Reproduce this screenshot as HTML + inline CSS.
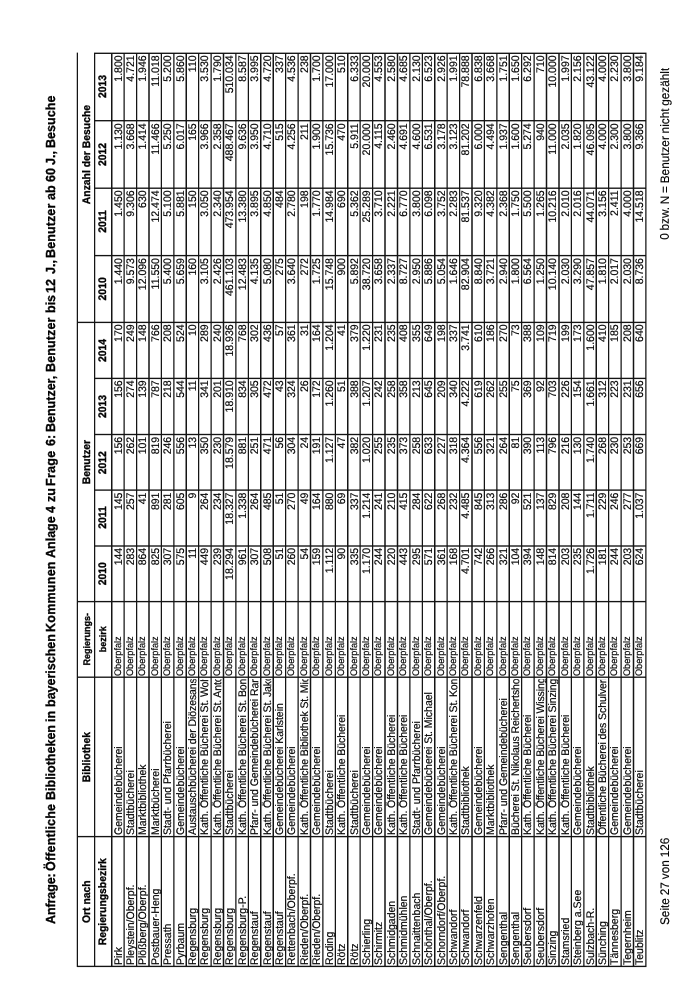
<!DOCTYPE html>
<html lang="de"><head><meta charset="utf-8"><title>Anlage 4 zu Frage 6</title><style>
html,body{margin:0;padding:0;background:#fff;}
body{width:700px;height:990px;overflow:hidden;position:relative;}
#pg{will-change:transform;position:absolute;left:0;top:0;width:990px;height:700px;transform-origin:0 0;transform:translate(0,990px) rotate(-90deg);font-family:"Liberation Sans",sans-serif;color:#000;}
#grid{position:absolute;left:0;top:0;}
.t{position:absolute;white-space:nowrap;overflow:hidden;transform:rotate(0.05deg) scaleX(0.95);}
.b{font-size:11.05px;-webkit-text-stroke:0.18px #000;}
.o{font-size:9.63px;-webkit-text-stroke:0.15px #000;}
.hb{font-size:10.95px;font-weight:bold;-webkit-text-stroke:0.3px #000;}
.hr{font-size:9.47px;font-weight:bold;-webkit-text-stroke:0.3px #000;}
.ti{font-size:13.16px;font-weight:bold;-webkit-text-stroke:0.3px #000;}
.f{font-size:12.38px;-webkit-text-stroke:0.15px #000;}
.ti{transform:none;}
.ti span{position:absolute;top:0;white-space:pre;transform-origin:0 50%;transform:rotate(0.05deg) scaleX(0.95);}
</style></head><body><div id="pg">
<svg id="grid" width="990" height="700" viewBox="0 0 990 700"><path d="M22.93 77.40H937.38M22.93 94.60H937.38M22.93 111.70H937.38M22.93 124.12H937.38M22.93 136.55H937.38M22.93 148.97H937.38M22.93 161.40H937.38M22.93 173.82H937.38M22.93 186.24H937.38M22.93 198.67H937.38M22.93 211.09H937.38M22.93 223.52H937.38M22.93 235.94H937.38M22.93 248.36H937.38M22.93 260.79H937.38M22.93 273.21H937.38M22.93 285.64H937.38M22.93 298.06H937.38M22.93 310.48H937.38M22.93 322.91H937.38M22.93 335.33H937.38M22.93 347.76H937.38M22.93 360.18H937.38M22.93 372.60H937.38M22.93 385.03H937.38M22.93 397.45H937.38M22.93 409.88H937.38M22.93 422.30H937.38M22.93 434.72H937.38M22.93 447.15H937.38M22.93 459.57H937.38M22.93 472.00H937.38M22.93 484.42H937.38M22.93 496.84H937.38M22.93 509.27H937.38M22.93 521.69H937.38M22.93 534.12H937.38M22.93 546.54H937.38M22.93 558.96H937.38M22.93 571.39H937.38M22.93 583.81H937.38M22.93 596.24H937.38M22.93 608.66H937.38M22.93 621.08H937.38M22.93 633.51H937.38M22.93 645.93H937.38M23.60 76.73V646.61M153.40 76.73V646.61M312.80 76.73V646.61M388.40 76.73V646.61M444.00 93.92V646.61M499.90 93.92V646.61M555.50 93.92V646.61M611.60 93.92V646.61M667.60 76.73V646.61M734.40 93.92V646.61M801.80 93.92V646.61M869.30 93.92V646.61M936.70 93.92V646.61" fill="none" stroke="#141414" stroke-width="1.35"/></svg>
<div class="t hb" style="left:20.18px;top:78.05px;width:136.63px;height:17.20px;line-height:17.20px;text-align:center;transform-origin:50% 50%;">Ort nach</div>
<div class="t hb" style="left:20.18px;top:94.25px;width:136.63px;height:17.10px;line-height:17.10px;text-align:center;transform-origin:50% 50%;">Regierungsbezirk</div>
<div class="t hb" style="left:149.21px;top:78.05px;width:167.79px;height:17.20px;line-height:17.20px;text-align:center;transform-origin:50% 50%;">Bibliothek</div>
<div class="t hr" style="left:310.81px;top:77.55px;width:79.58px;height:17.20px;line-height:17.20px;text-align:center;transform-origin:50% 50%;">Regierungs-</div>
<div class="t hr" style="left:310.81px;top:94.25px;width:79.58px;height:17.10px;line-height:17.10px;text-align:center;transform-origin:50% 50%;">bezirk</div>
<div class="t hb" style="left:381.05px;top:78.05px;width:293.89px;height:17.20px;line-height:17.20px;text-align:center;transform-origin:50% 50%;">Benutzer</div>
<div class="t hb" style="left:729.08px;top:78.05px;width:212.95px;height:17.20px;line-height:17.20px;text-align:center;transform-origin:50% 50%;">Anzahl der Besuche</div>
<div class="t hb" style="left:386.94px;top:94.25px;width:58.53px;height:17.10px;line-height:17.10px;text-align:center;transform-origin:50% 50%;">2010</div>
<div class="t hb" style="left:442.53px;top:94.25px;width:58.84px;height:17.10px;line-height:17.10px;text-align:center;transform-origin:50% 50%;">2011</div>
<div class="t hb" style="left:498.44px;top:94.25px;width:58.53px;height:17.10px;line-height:17.10px;text-align:center;transform-origin:50% 50%;">2012</div>
<div class="t hb" style="left:554.02px;top:94.25px;width:59.05px;height:17.10px;line-height:17.10px;text-align:center;transform-origin:50% 50%;">2013</div>
<div class="t hb" style="left:610.13px;top:94.25px;width:58.95px;height:17.10px;line-height:17.10px;text-align:center;transform-origin:50% 50%;">2014</div>
<div class="t hb" style="left:665.84px;top:94.25px;width:70.32px;height:17.10px;line-height:17.10px;text-align:center;transform-origin:50% 50%;">2010</div>
<div class="t hb" style="left:732.63px;top:94.25px;width:70.95px;height:17.10px;line-height:17.10px;text-align:center;transform-origin:50% 50%;">2011</div>
<div class="t hb" style="left:800.02px;top:94.25px;width:71.05px;height:17.10px;line-height:17.10px;text-align:center;transform-origin:50% 50%;">2012</div>
<div class="t hb" style="left:867.53px;top:94.25px;width:70.95px;height:17.10px;line-height:17.10px;text-align:center;transform-origin:50% 50%;">2013</div>
<div class="t b" style="left:25.20px;top:111.50px;width:133.16px;height:12.42px;line-height:12.42px;text-align:left;transform-origin:0 50%;">Pirk</div>
<div class="t b" style="left:155.00px;top:111.50px;width:164.32px;height:12.42px;line-height:12.42px;text-align:left;transform-origin:0 50%;">Gemeindebücherei</div>
<div class="t o" style="left:314.40px;top:111.50px;width:76.11px;height:12.42px;line-height:12.42px;text-align:left;transform-origin:0 50%;">Oberpfalz</div>
<div class="t b" style="left:386.64px;top:111.50px;width:55.16px;height:12.42px;line-height:12.42px;text-align:right;transform-origin:100% 50%;">144</div>
<div class="t b" style="left:442.23px;top:111.50px;width:55.47px;height:12.42px;line-height:12.42px;text-align:right;transform-origin:100% 50%;">145</div>
<div class="t b" style="left:498.14px;top:111.50px;width:55.16px;height:12.42px;line-height:12.42px;text-align:right;transform-origin:100% 50%;">156</div>
<div class="t b" style="left:553.72px;top:111.50px;width:55.68px;height:12.42px;line-height:12.42px;text-align:right;transform-origin:100% 50%;">156</div>
<div class="t b" style="left:609.82px;top:111.50px;width:55.58px;height:12.42px;line-height:12.42px;text-align:right;transform-origin:100% 50%;">170</div>
<div class="t b" style="left:665.25px;top:111.50px;width:66.95px;height:12.42px;line-height:12.42px;text-align:right;transform-origin:100% 50%;">1.440</div>
<div class="t b" style="left:732.02px;top:111.50px;width:67.58px;height:12.42px;line-height:12.42px;text-align:right;transform-origin:100% 50%;">1.450</div>
<div class="t b" style="left:799.42px;top:111.50px;width:67.68px;height:12.42px;line-height:12.42px;text-align:right;transform-origin:100% 50%;">1.130</div>
<div class="t b" style="left:866.92px;top:111.50px;width:67.58px;height:12.42px;line-height:12.42px;text-align:right;transform-origin:100% 50%;">1.800</div>
<div class="t b" style="left:25.20px;top:123.92px;width:133.16px;height:12.42px;line-height:12.42px;text-align:left;transform-origin:0 50%;">Pleystein/Oberpf.</div>
<div class="t b" style="left:155.00px;top:123.92px;width:164.32px;height:12.42px;line-height:12.42px;text-align:left;transform-origin:0 50%;">Stadtbücherei</div>
<div class="t o" style="left:314.40px;top:123.92px;width:76.11px;height:12.42px;line-height:12.42px;text-align:left;transform-origin:0 50%;">Oberpfalz</div>
<div class="t b" style="left:386.64px;top:123.92px;width:55.16px;height:12.42px;line-height:12.42px;text-align:right;transform-origin:100% 50%;">283</div>
<div class="t b" style="left:442.23px;top:123.92px;width:55.47px;height:12.42px;line-height:12.42px;text-align:right;transform-origin:100% 50%;">257</div>
<div class="t b" style="left:498.14px;top:123.92px;width:55.16px;height:12.42px;line-height:12.42px;text-align:right;transform-origin:100% 50%;">262</div>
<div class="t b" style="left:553.72px;top:123.92px;width:55.68px;height:12.42px;line-height:12.42px;text-align:right;transform-origin:100% 50%;">274</div>
<div class="t b" style="left:609.82px;top:123.92px;width:55.58px;height:12.42px;line-height:12.42px;text-align:right;transform-origin:100% 50%;">249</div>
<div class="t b" style="left:665.25px;top:123.92px;width:66.95px;height:12.42px;line-height:12.42px;text-align:right;transform-origin:100% 50%;">9.573</div>
<div class="t b" style="left:732.02px;top:123.92px;width:67.58px;height:12.42px;line-height:12.42px;text-align:right;transform-origin:100% 50%;">9.306</div>
<div class="t b" style="left:799.42px;top:123.92px;width:67.68px;height:12.42px;line-height:12.42px;text-align:right;transform-origin:100% 50%;">3.668</div>
<div class="t b" style="left:866.92px;top:123.92px;width:67.58px;height:12.42px;line-height:12.42px;text-align:right;transform-origin:100% 50%;">4.721</div>
<div class="t b" style="left:25.20px;top:136.35px;width:133.16px;height:12.42px;line-height:12.42px;text-align:left;transform-origin:0 50%;">Plößberg/Oberpf.</div>
<div class="t b" style="left:155.00px;top:136.35px;width:164.32px;height:12.42px;line-height:12.42px;text-align:left;transform-origin:0 50%;">Marktbibliothek</div>
<div class="t o" style="left:314.40px;top:136.35px;width:76.11px;height:12.42px;line-height:12.42px;text-align:left;transform-origin:0 50%;">Oberpfalz</div>
<div class="t b" style="left:386.64px;top:136.35px;width:55.16px;height:12.42px;line-height:12.42px;text-align:right;transform-origin:100% 50%;">864</div>
<div class="t b" style="left:442.23px;top:136.35px;width:55.47px;height:12.42px;line-height:12.42px;text-align:right;transform-origin:100% 50%;">41</div>
<div class="t b" style="left:498.14px;top:136.35px;width:55.16px;height:12.42px;line-height:12.42px;text-align:right;transform-origin:100% 50%;">101</div>
<div class="t b" style="left:553.72px;top:136.35px;width:55.68px;height:12.42px;line-height:12.42px;text-align:right;transform-origin:100% 50%;">139</div>
<div class="t b" style="left:609.82px;top:136.35px;width:55.58px;height:12.42px;line-height:12.42px;text-align:right;transform-origin:100% 50%;">148</div>
<div class="t b" style="left:665.25px;top:136.35px;width:66.95px;height:12.42px;line-height:12.42px;text-align:right;transform-origin:100% 50%;">12.096</div>
<div class="t b" style="left:732.02px;top:136.35px;width:67.58px;height:12.42px;line-height:12.42px;text-align:right;transform-origin:100% 50%;">630</div>
<div class="t b" style="left:799.42px;top:136.35px;width:67.68px;height:12.42px;line-height:12.42px;text-align:right;transform-origin:100% 50%;">1.414</div>
<div class="t b" style="left:866.92px;top:136.35px;width:67.58px;height:12.42px;line-height:12.42px;text-align:right;transform-origin:100% 50%;">1.946</div>
<div class="t b" style="left:25.20px;top:148.77px;width:133.16px;height:12.42px;line-height:12.42px;text-align:left;transform-origin:0 50%;">Postbauer-Heng</div>
<div class="t b" style="left:155.00px;top:148.77px;width:164.32px;height:12.42px;line-height:12.42px;text-align:left;transform-origin:0 50%;">Marktbücherei</div>
<div class="t o" style="left:314.40px;top:148.77px;width:76.11px;height:12.42px;line-height:12.42px;text-align:left;transform-origin:0 50%;">Oberpfalz</div>
<div class="t b" style="left:386.64px;top:148.77px;width:55.16px;height:12.42px;line-height:12.42px;text-align:right;transform-origin:100% 50%;">825</div>
<div class="t b" style="left:442.23px;top:148.77px;width:55.47px;height:12.42px;line-height:12.42px;text-align:right;transform-origin:100% 50%;">891</div>
<div class="t b" style="left:498.14px;top:148.77px;width:55.16px;height:12.42px;line-height:12.42px;text-align:right;transform-origin:100% 50%;">819</div>
<div class="t b" style="left:553.72px;top:148.77px;width:55.68px;height:12.42px;line-height:12.42px;text-align:right;transform-origin:100% 50%;">787</div>
<div class="t b" style="left:609.82px;top:148.77px;width:55.58px;height:12.42px;line-height:12.42px;text-align:right;transform-origin:100% 50%;">766</div>
<div class="t b" style="left:665.25px;top:148.77px;width:66.95px;height:12.42px;line-height:12.42px;text-align:right;transform-origin:100% 50%;">11.550</div>
<div class="t b" style="left:732.02px;top:148.77px;width:67.58px;height:12.42px;line-height:12.42px;text-align:right;transform-origin:100% 50%;">12.474</div>
<div class="t b" style="left:799.42px;top:148.77px;width:67.68px;height:12.42px;line-height:12.42px;text-align:right;transform-origin:100% 50%;">11.466</div>
<div class="t b" style="left:866.92px;top:148.77px;width:67.58px;height:12.42px;line-height:12.42px;text-align:right;transform-origin:100% 50%;">11.018</div>
<div class="t b" style="left:25.20px;top:161.20px;width:133.16px;height:12.42px;line-height:12.42px;text-align:left;transform-origin:0 50%;">Pressath</div>
<div class="t b" style="left:155.00px;top:161.20px;width:164.32px;height:12.42px;line-height:12.42px;text-align:left;transform-origin:0 50%;letter-spacing:-0.025px">Stadt- und Pfarrbücherei</div>
<div class="t o" style="left:314.40px;top:161.20px;width:76.11px;height:12.42px;line-height:12.42px;text-align:left;transform-origin:0 50%;">Oberpfalz</div>
<div class="t b" style="left:386.64px;top:161.20px;width:55.16px;height:12.42px;line-height:12.42px;text-align:right;transform-origin:100% 50%;">307</div>
<div class="t b" style="left:442.23px;top:161.20px;width:55.47px;height:12.42px;line-height:12.42px;text-align:right;transform-origin:100% 50%;">281</div>
<div class="t b" style="left:498.14px;top:161.20px;width:55.16px;height:12.42px;line-height:12.42px;text-align:right;transform-origin:100% 50%;">246</div>
<div class="t b" style="left:553.72px;top:161.20px;width:55.68px;height:12.42px;line-height:12.42px;text-align:right;transform-origin:100% 50%;">218</div>
<div class="t b" style="left:609.82px;top:161.20px;width:55.58px;height:12.42px;line-height:12.42px;text-align:right;transform-origin:100% 50%;">208</div>
<div class="t b" style="left:665.25px;top:161.20px;width:66.95px;height:12.42px;line-height:12.42px;text-align:right;transform-origin:100% 50%;">5.400</div>
<div class="t b" style="left:732.02px;top:161.20px;width:67.58px;height:12.42px;line-height:12.42px;text-align:right;transform-origin:100% 50%;">5.100</div>
<div class="t b" style="left:799.42px;top:161.20px;width:67.68px;height:12.42px;line-height:12.42px;text-align:right;transform-origin:100% 50%;">5.250</div>
<div class="t b" style="left:866.92px;top:161.20px;width:67.58px;height:12.42px;line-height:12.42px;text-align:right;transform-origin:100% 50%;">5.200</div>
<div class="t b" style="left:25.20px;top:173.62px;width:133.16px;height:12.42px;line-height:12.42px;text-align:left;transform-origin:0 50%;">Pyrbaum</div>
<div class="t b" style="left:155.00px;top:173.62px;width:164.32px;height:12.42px;line-height:12.42px;text-align:left;transform-origin:0 50%;">Gemeindebücherei</div>
<div class="t o" style="left:314.40px;top:173.62px;width:76.11px;height:12.42px;line-height:12.42px;text-align:left;transform-origin:0 50%;">Oberpfalz</div>
<div class="t b" style="left:386.64px;top:173.62px;width:55.16px;height:12.42px;line-height:12.42px;text-align:right;transform-origin:100% 50%;">575</div>
<div class="t b" style="left:442.23px;top:173.62px;width:55.47px;height:12.42px;line-height:12.42px;text-align:right;transform-origin:100% 50%;">605</div>
<div class="t b" style="left:498.14px;top:173.62px;width:55.16px;height:12.42px;line-height:12.42px;text-align:right;transform-origin:100% 50%;">556</div>
<div class="t b" style="left:553.72px;top:173.62px;width:55.68px;height:12.42px;line-height:12.42px;text-align:right;transform-origin:100% 50%;">544</div>
<div class="t b" style="left:609.82px;top:173.62px;width:55.58px;height:12.42px;line-height:12.42px;text-align:right;transform-origin:100% 50%;">524</div>
<div class="t b" style="left:665.25px;top:173.62px;width:66.95px;height:12.42px;line-height:12.42px;text-align:right;transform-origin:100% 50%;">5.659</div>
<div class="t b" style="left:732.02px;top:173.62px;width:67.58px;height:12.42px;line-height:12.42px;text-align:right;transform-origin:100% 50%;">5.881</div>
<div class="t b" style="left:799.42px;top:173.62px;width:67.68px;height:12.42px;line-height:12.42px;text-align:right;transform-origin:100% 50%;">6.017</div>
<div class="t b" style="left:866.92px;top:173.62px;width:67.58px;height:12.42px;line-height:12.42px;text-align:right;transform-origin:100% 50%;">5.860</div>
<div class="t b" style="left:25.20px;top:186.04px;width:133.16px;height:12.42px;line-height:12.42px;text-align:left;transform-origin:0 50%;">Regensburg</div>
<div class="t b" style="left:155.00px;top:186.04px;width:164.32px;height:12.42px;line-height:12.42px;text-align:left;transform-origin:0 50%;letter-spacing:-0.085px">Austauschbücherei der Diözesanstelle</div>
<div class="t o" style="left:314.40px;top:186.04px;width:76.11px;height:12.42px;line-height:12.42px;text-align:left;transform-origin:0 50%;">Oberpfalz</div>
<div class="t b" style="left:386.64px;top:186.04px;width:55.16px;height:12.42px;line-height:12.42px;text-align:right;transform-origin:100% 50%;">11</div>
<div class="t b" style="left:442.23px;top:186.04px;width:55.47px;height:12.42px;line-height:12.42px;text-align:right;transform-origin:100% 50%;">9</div>
<div class="t b" style="left:498.14px;top:186.04px;width:55.16px;height:12.42px;line-height:12.42px;text-align:right;transform-origin:100% 50%;">13</div>
<div class="t b" style="left:553.72px;top:186.04px;width:55.68px;height:12.42px;line-height:12.42px;text-align:right;transform-origin:100% 50%;">11</div>
<div class="t b" style="left:609.82px;top:186.04px;width:55.58px;height:12.42px;line-height:12.42px;text-align:right;transform-origin:100% 50%;">10</div>
<div class="t b" style="left:665.25px;top:186.04px;width:66.95px;height:12.42px;line-height:12.42px;text-align:right;transform-origin:100% 50%;">160</div>
<div class="t b" style="left:732.02px;top:186.04px;width:67.58px;height:12.42px;line-height:12.42px;text-align:right;transform-origin:100% 50%;">150</div>
<div class="t b" style="left:799.42px;top:186.04px;width:67.68px;height:12.42px;line-height:12.42px;text-align:right;transform-origin:100% 50%;">165</div>
<div class="t b" style="left:866.92px;top:186.04px;width:67.58px;height:12.42px;line-height:12.42px;text-align:right;transform-origin:100% 50%;">110</div>
<div class="t b" style="left:25.20px;top:198.47px;width:133.16px;height:12.42px;line-height:12.42px;text-align:left;transform-origin:0 50%;">Regensburg</div>
<div class="t b" style="left:155.00px;top:198.47px;width:164.32px;height:12.42px;line-height:12.42px;text-align:left;transform-origin:0 50%;letter-spacing:-0.085px">Kath. Öffentliche Bücherei St. Wolfgang</div>
<div class="t o" style="left:314.40px;top:198.47px;width:76.11px;height:12.42px;line-height:12.42px;text-align:left;transform-origin:0 50%;">Oberpfalz</div>
<div class="t b" style="left:386.64px;top:198.47px;width:55.16px;height:12.42px;line-height:12.42px;text-align:right;transform-origin:100% 50%;">449</div>
<div class="t b" style="left:442.23px;top:198.47px;width:55.47px;height:12.42px;line-height:12.42px;text-align:right;transform-origin:100% 50%;">264</div>
<div class="t b" style="left:498.14px;top:198.47px;width:55.16px;height:12.42px;line-height:12.42px;text-align:right;transform-origin:100% 50%;">350</div>
<div class="t b" style="left:553.72px;top:198.47px;width:55.68px;height:12.42px;line-height:12.42px;text-align:right;transform-origin:100% 50%;">341</div>
<div class="t b" style="left:609.82px;top:198.47px;width:55.58px;height:12.42px;line-height:12.42px;text-align:right;transform-origin:100% 50%;">289</div>
<div class="t b" style="left:665.25px;top:198.47px;width:66.95px;height:12.42px;line-height:12.42px;text-align:right;transform-origin:100% 50%;">3.105</div>
<div class="t b" style="left:732.02px;top:198.47px;width:67.58px;height:12.42px;line-height:12.42px;text-align:right;transform-origin:100% 50%;">3.050</div>
<div class="t b" style="left:799.42px;top:198.47px;width:67.68px;height:12.42px;line-height:12.42px;text-align:right;transform-origin:100% 50%;">3.966</div>
<div class="t b" style="left:866.92px;top:198.47px;width:67.58px;height:12.42px;line-height:12.42px;text-align:right;transform-origin:100% 50%;">3.530</div>
<div class="t b" style="left:25.20px;top:210.89px;width:133.16px;height:12.42px;line-height:12.42px;text-align:left;transform-origin:0 50%;">Regensburg</div>
<div class="t b" style="left:155.00px;top:210.89px;width:164.32px;height:12.42px;line-height:12.42px;text-align:left;transform-origin:0 50%;letter-spacing:-0.085px">Kath. Öffentliche Bücherei St. Anton</div>
<div class="t o" style="left:314.40px;top:210.89px;width:76.11px;height:12.42px;line-height:12.42px;text-align:left;transform-origin:0 50%;">Oberpfalz</div>
<div class="t b" style="left:386.64px;top:210.89px;width:55.16px;height:12.42px;line-height:12.42px;text-align:right;transform-origin:100% 50%;">239</div>
<div class="t b" style="left:442.23px;top:210.89px;width:55.47px;height:12.42px;line-height:12.42px;text-align:right;transform-origin:100% 50%;">234</div>
<div class="t b" style="left:498.14px;top:210.89px;width:55.16px;height:12.42px;line-height:12.42px;text-align:right;transform-origin:100% 50%;">230</div>
<div class="t b" style="left:553.72px;top:210.89px;width:55.68px;height:12.42px;line-height:12.42px;text-align:right;transform-origin:100% 50%;">201</div>
<div class="t b" style="left:609.82px;top:210.89px;width:55.58px;height:12.42px;line-height:12.42px;text-align:right;transform-origin:100% 50%;">240</div>
<div class="t b" style="left:665.25px;top:210.89px;width:66.95px;height:12.42px;line-height:12.42px;text-align:right;transform-origin:100% 50%;">2.426</div>
<div class="t b" style="left:732.02px;top:210.89px;width:67.58px;height:12.42px;line-height:12.42px;text-align:right;transform-origin:100% 50%;">2.340</div>
<div class="t b" style="left:799.42px;top:210.89px;width:67.68px;height:12.42px;line-height:12.42px;text-align:right;transform-origin:100% 50%;">2.358</div>
<div class="t b" style="left:866.92px;top:210.89px;width:67.58px;height:12.42px;line-height:12.42px;text-align:right;transform-origin:100% 50%;">1.790</div>
<div class="t b" style="left:25.20px;top:223.32px;width:133.16px;height:12.42px;line-height:12.42px;text-align:left;transform-origin:0 50%;">Regensburg</div>
<div class="t b" style="left:155.00px;top:223.32px;width:164.32px;height:12.42px;line-height:12.42px;text-align:left;transform-origin:0 50%;">Stadtbücherei</div>
<div class="t o" style="left:314.40px;top:223.32px;width:76.11px;height:12.42px;line-height:12.42px;text-align:left;transform-origin:0 50%;">Oberpfalz</div>
<div class="t b" style="left:386.64px;top:223.32px;width:55.16px;height:12.42px;line-height:12.42px;text-align:right;transform-origin:100% 50%;">18.294</div>
<div class="t b" style="left:442.23px;top:223.32px;width:55.47px;height:12.42px;line-height:12.42px;text-align:right;transform-origin:100% 50%;">18.327</div>
<div class="t b" style="left:498.14px;top:223.32px;width:55.16px;height:12.42px;line-height:12.42px;text-align:right;transform-origin:100% 50%;">18.579</div>
<div class="t b" style="left:553.72px;top:223.32px;width:55.68px;height:12.42px;line-height:12.42px;text-align:right;transform-origin:100% 50%;">18.910</div>
<div class="t b" style="left:609.82px;top:223.32px;width:55.58px;height:12.42px;line-height:12.42px;text-align:right;transform-origin:100% 50%;">18.936</div>
<div class="t b" style="left:665.25px;top:223.32px;width:66.95px;height:12.42px;line-height:12.42px;text-align:right;transform-origin:100% 50%;">461.103</div>
<div class="t b" style="left:732.02px;top:223.32px;width:67.58px;height:12.42px;line-height:12.42px;text-align:right;transform-origin:100% 50%;">473.954</div>
<div class="t b" style="left:799.42px;top:223.32px;width:67.68px;height:12.42px;line-height:12.42px;text-align:right;transform-origin:100% 50%;">488.467</div>
<div class="t b" style="left:866.92px;top:223.32px;width:67.58px;height:12.42px;line-height:12.42px;text-align:right;transform-origin:100% 50%;">510.034</div>
<div class="t b" style="left:25.20px;top:235.74px;width:133.16px;height:12.42px;line-height:12.42px;text-align:left;transform-origin:0 50%;">Regensburg-P.</div>
<div class="t b" style="left:155.00px;top:235.74px;width:164.32px;height:12.42px;line-height:12.42px;text-align:left;transform-origin:0 50%;letter-spacing:-0.085px">Kath. Öffentliche Bücherei St. Bonifaz</div>
<div class="t o" style="left:314.40px;top:235.74px;width:76.11px;height:12.42px;line-height:12.42px;text-align:left;transform-origin:0 50%;">Oberpfalz</div>
<div class="t b" style="left:386.64px;top:235.74px;width:55.16px;height:12.42px;line-height:12.42px;text-align:right;transform-origin:100% 50%;">961</div>
<div class="t b" style="left:442.23px;top:235.74px;width:55.47px;height:12.42px;line-height:12.42px;text-align:right;transform-origin:100% 50%;">1.338</div>
<div class="t b" style="left:498.14px;top:235.74px;width:55.16px;height:12.42px;line-height:12.42px;text-align:right;transform-origin:100% 50%;">881</div>
<div class="t b" style="left:553.72px;top:235.74px;width:55.68px;height:12.42px;line-height:12.42px;text-align:right;transform-origin:100% 50%;">834</div>
<div class="t b" style="left:609.82px;top:235.74px;width:55.58px;height:12.42px;line-height:12.42px;text-align:right;transform-origin:100% 50%;">768</div>
<div class="t b" style="left:665.25px;top:235.74px;width:66.95px;height:12.42px;line-height:12.42px;text-align:right;transform-origin:100% 50%;">12.483</div>
<div class="t b" style="left:732.02px;top:235.74px;width:67.58px;height:12.42px;line-height:12.42px;text-align:right;transform-origin:100% 50%;">13.380</div>
<div class="t b" style="left:799.42px;top:235.74px;width:67.68px;height:12.42px;line-height:12.42px;text-align:right;transform-origin:100% 50%;">9.636</div>
<div class="t b" style="left:866.92px;top:235.74px;width:67.58px;height:12.42px;line-height:12.42px;text-align:right;transform-origin:100% 50%;">8.587</div>
<div class="t b" style="left:25.20px;top:248.16px;width:133.16px;height:12.42px;line-height:12.42px;text-align:left;transform-origin:0 50%;">Regenstauf</div>
<div class="t b" style="left:155.00px;top:248.16px;width:164.32px;height:12.42px;line-height:12.42px;text-align:left;transform-origin:0 50%;letter-spacing:-0.085px">Pfarr- und Gemeindebücherei Ramspau</div>
<div class="t o" style="left:314.40px;top:248.16px;width:76.11px;height:12.42px;line-height:12.42px;text-align:left;transform-origin:0 50%;">Oberpfalz</div>
<div class="t b" style="left:386.64px;top:248.16px;width:55.16px;height:12.42px;line-height:12.42px;text-align:right;transform-origin:100% 50%;">307</div>
<div class="t b" style="left:442.23px;top:248.16px;width:55.47px;height:12.42px;line-height:12.42px;text-align:right;transform-origin:100% 50%;">264</div>
<div class="t b" style="left:498.14px;top:248.16px;width:55.16px;height:12.42px;line-height:12.42px;text-align:right;transform-origin:100% 50%;">251</div>
<div class="t b" style="left:553.72px;top:248.16px;width:55.68px;height:12.42px;line-height:12.42px;text-align:right;transform-origin:100% 50%;">305</div>
<div class="t b" style="left:609.82px;top:248.16px;width:55.58px;height:12.42px;line-height:12.42px;text-align:right;transform-origin:100% 50%;">302</div>
<div class="t b" style="left:665.25px;top:248.16px;width:66.95px;height:12.42px;line-height:12.42px;text-align:right;transform-origin:100% 50%;">4.135</div>
<div class="t b" style="left:732.02px;top:248.16px;width:67.58px;height:12.42px;line-height:12.42px;text-align:right;transform-origin:100% 50%;">3.895</div>
<div class="t b" style="left:799.42px;top:248.16px;width:67.68px;height:12.42px;line-height:12.42px;text-align:right;transform-origin:100% 50%;">3.950</div>
<div class="t b" style="left:866.92px;top:248.16px;width:67.58px;height:12.42px;line-height:12.42px;text-align:right;transform-origin:100% 50%;">3.995</div>
<div class="t b" style="left:25.20px;top:260.59px;width:133.16px;height:12.42px;line-height:12.42px;text-align:left;transform-origin:0 50%;">Regenstauf</div>
<div class="t b" style="left:155.00px;top:260.59px;width:164.32px;height:12.42px;line-height:12.42px;text-align:left;transform-origin:0 50%;letter-spacing:-0.085px">Kath. Öffentliche Bücherei St. Jakob</div>
<div class="t o" style="left:314.40px;top:260.59px;width:76.11px;height:12.42px;line-height:12.42px;text-align:left;transform-origin:0 50%;">Oberpfalz</div>
<div class="t b" style="left:386.64px;top:260.59px;width:55.16px;height:12.42px;line-height:12.42px;text-align:right;transform-origin:100% 50%;">508</div>
<div class="t b" style="left:442.23px;top:260.59px;width:55.47px;height:12.42px;line-height:12.42px;text-align:right;transform-origin:100% 50%;">485</div>
<div class="t b" style="left:498.14px;top:260.59px;width:55.16px;height:12.42px;line-height:12.42px;text-align:right;transform-origin:100% 50%;">471</div>
<div class="t b" style="left:553.72px;top:260.59px;width:55.68px;height:12.42px;line-height:12.42px;text-align:right;transform-origin:100% 50%;">472</div>
<div class="t b" style="left:609.82px;top:260.59px;width:55.58px;height:12.42px;line-height:12.42px;text-align:right;transform-origin:100% 50%;">436</div>
<div class="t b" style="left:665.25px;top:260.59px;width:66.95px;height:12.42px;line-height:12.42px;text-align:right;transform-origin:100% 50%;">5.080</div>
<div class="t b" style="left:732.02px;top:260.59px;width:67.58px;height:12.42px;line-height:12.42px;text-align:right;transform-origin:100% 50%;">4.850</div>
<div class="t b" style="left:799.42px;top:260.59px;width:67.68px;height:12.42px;line-height:12.42px;text-align:right;transform-origin:100% 50%;">4.710</div>
<div class="t b" style="left:866.92px;top:260.59px;width:67.58px;height:12.42px;line-height:12.42px;text-align:right;transform-origin:100% 50%;">4.720</div>
<div class="t b" style="left:25.20px;top:273.01px;width:133.16px;height:12.42px;line-height:12.42px;text-align:left;transform-origin:0 50%;">Regenstauf</div>
<div class="t b" style="left:155.00px;top:273.01px;width:164.32px;height:12.42px;line-height:12.42px;text-align:left;transform-origin:0 50%;letter-spacing:-0.025px">Gemeindebücherei Karlstein</div>
<div class="t o" style="left:314.40px;top:273.01px;width:76.11px;height:12.42px;line-height:12.42px;text-align:left;transform-origin:0 50%;">Oberpfalz</div>
<div class="t b" style="left:386.64px;top:273.01px;width:55.16px;height:12.42px;line-height:12.42px;text-align:right;transform-origin:100% 50%;">51</div>
<div class="t b" style="left:442.23px;top:273.01px;width:55.47px;height:12.42px;line-height:12.42px;text-align:right;transform-origin:100% 50%;">51</div>
<div class="t b" style="left:498.14px;top:273.01px;width:55.16px;height:12.42px;line-height:12.42px;text-align:right;transform-origin:100% 50%;">56</div>
<div class="t b" style="left:553.72px;top:273.01px;width:55.68px;height:12.42px;line-height:12.42px;text-align:right;transform-origin:100% 50%;">43</div>
<div class="t b" style="left:609.82px;top:273.01px;width:55.58px;height:12.42px;line-height:12.42px;text-align:right;transform-origin:100% 50%;">57</div>
<div class="t b" style="left:665.25px;top:273.01px;width:66.95px;height:12.42px;line-height:12.42px;text-align:right;transform-origin:100% 50%;">275</div>
<div class="t b" style="left:732.02px;top:273.01px;width:67.58px;height:12.42px;line-height:12.42px;text-align:right;transform-origin:100% 50%;">484</div>
<div class="t b" style="left:799.42px;top:273.01px;width:67.68px;height:12.42px;line-height:12.42px;text-align:right;transform-origin:100% 50%;">515</div>
<div class="t b" style="left:866.92px;top:273.01px;width:67.58px;height:12.42px;line-height:12.42px;text-align:right;transform-origin:100% 50%;">337</div>
<div class="t b" style="left:25.20px;top:285.44px;width:133.16px;height:12.42px;line-height:12.42px;text-align:left;transform-origin:0 50%;">Rettenbach/Oberpf.</div>
<div class="t b" style="left:155.00px;top:285.44px;width:164.32px;height:12.42px;line-height:12.42px;text-align:left;transform-origin:0 50%;">Gemeindebücherei</div>
<div class="t o" style="left:314.40px;top:285.44px;width:76.11px;height:12.42px;line-height:12.42px;text-align:left;transform-origin:0 50%;">Oberpfalz</div>
<div class="t b" style="left:386.64px;top:285.44px;width:55.16px;height:12.42px;line-height:12.42px;text-align:right;transform-origin:100% 50%;">260</div>
<div class="t b" style="left:442.23px;top:285.44px;width:55.47px;height:12.42px;line-height:12.42px;text-align:right;transform-origin:100% 50%;">270</div>
<div class="t b" style="left:498.14px;top:285.44px;width:55.16px;height:12.42px;line-height:12.42px;text-align:right;transform-origin:100% 50%;">304</div>
<div class="t b" style="left:553.72px;top:285.44px;width:55.68px;height:12.42px;line-height:12.42px;text-align:right;transform-origin:100% 50%;">324</div>
<div class="t b" style="left:609.82px;top:285.44px;width:55.58px;height:12.42px;line-height:12.42px;text-align:right;transform-origin:100% 50%;">361</div>
<div class="t b" style="left:665.25px;top:285.44px;width:66.95px;height:12.42px;line-height:12.42px;text-align:right;transform-origin:100% 50%;">3.640</div>
<div class="t b" style="left:732.02px;top:285.44px;width:67.58px;height:12.42px;line-height:12.42px;text-align:right;transform-origin:100% 50%;">2.780</div>
<div class="t b" style="left:799.42px;top:285.44px;width:67.68px;height:12.42px;line-height:12.42px;text-align:right;transform-origin:100% 50%;">4.256</div>
<div class="t b" style="left:866.92px;top:285.44px;width:67.58px;height:12.42px;line-height:12.42px;text-align:right;transform-origin:100% 50%;">4.536</div>
<div class="t b" style="left:25.20px;top:297.86px;width:133.16px;height:12.42px;line-height:12.42px;text-align:left;transform-origin:0 50%;">Rieden/Oberpf.</div>
<div class="t b" style="left:155.00px;top:297.86px;width:164.32px;height:12.42px;line-height:12.42px;text-align:left;transform-origin:0 50%;letter-spacing:-0.085px">Kath. Öffentliche Bibliothek St. Michael</div>
<div class="t o" style="left:314.40px;top:297.86px;width:76.11px;height:12.42px;line-height:12.42px;text-align:left;transform-origin:0 50%;">Oberpfalz</div>
<div class="t b" style="left:386.64px;top:297.86px;width:55.16px;height:12.42px;line-height:12.42px;text-align:right;transform-origin:100% 50%;">54</div>
<div class="t b" style="left:442.23px;top:297.86px;width:55.47px;height:12.42px;line-height:12.42px;text-align:right;transform-origin:100% 50%;">49</div>
<div class="t b" style="left:498.14px;top:297.86px;width:55.16px;height:12.42px;line-height:12.42px;text-align:right;transform-origin:100% 50%;">24</div>
<div class="t b" style="left:553.72px;top:297.86px;width:55.68px;height:12.42px;line-height:12.42px;text-align:right;transform-origin:100% 50%;">26</div>
<div class="t b" style="left:609.82px;top:297.86px;width:55.58px;height:12.42px;line-height:12.42px;text-align:right;transform-origin:100% 50%;">31</div>
<div class="t b" style="left:665.25px;top:297.86px;width:66.95px;height:12.42px;line-height:12.42px;text-align:right;transform-origin:100% 50%;">272</div>
<div class="t b" style="left:732.02px;top:297.86px;width:67.58px;height:12.42px;line-height:12.42px;text-align:right;transform-origin:100% 50%;">198</div>
<div class="t b" style="left:799.42px;top:297.86px;width:67.68px;height:12.42px;line-height:12.42px;text-align:right;transform-origin:100% 50%;">211</div>
<div class="t b" style="left:866.92px;top:297.86px;width:67.58px;height:12.42px;line-height:12.42px;text-align:right;transform-origin:100% 50%;">238</div>
<div class="t b" style="left:25.20px;top:310.28px;width:133.16px;height:12.42px;line-height:12.42px;text-align:left;transform-origin:0 50%;">Rieden/Oberpf.</div>
<div class="t b" style="left:155.00px;top:310.28px;width:164.32px;height:12.42px;line-height:12.42px;text-align:left;transform-origin:0 50%;">Gemeindebücherei</div>
<div class="t o" style="left:314.40px;top:310.28px;width:76.11px;height:12.42px;line-height:12.42px;text-align:left;transform-origin:0 50%;">Oberpfalz</div>
<div class="t b" style="left:386.64px;top:310.28px;width:55.16px;height:12.42px;line-height:12.42px;text-align:right;transform-origin:100% 50%;">159</div>
<div class="t b" style="left:442.23px;top:310.28px;width:55.47px;height:12.42px;line-height:12.42px;text-align:right;transform-origin:100% 50%;">164</div>
<div class="t b" style="left:498.14px;top:310.28px;width:55.16px;height:12.42px;line-height:12.42px;text-align:right;transform-origin:100% 50%;">191</div>
<div class="t b" style="left:553.72px;top:310.28px;width:55.68px;height:12.42px;line-height:12.42px;text-align:right;transform-origin:100% 50%;">172</div>
<div class="t b" style="left:609.82px;top:310.28px;width:55.58px;height:12.42px;line-height:12.42px;text-align:right;transform-origin:100% 50%;">164</div>
<div class="t b" style="left:665.25px;top:310.28px;width:66.95px;height:12.42px;line-height:12.42px;text-align:right;transform-origin:100% 50%;">1.725</div>
<div class="t b" style="left:732.02px;top:310.28px;width:67.58px;height:12.42px;line-height:12.42px;text-align:right;transform-origin:100% 50%;">1.770</div>
<div class="t b" style="left:799.42px;top:310.28px;width:67.68px;height:12.42px;line-height:12.42px;text-align:right;transform-origin:100% 50%;">1.900</div>
<div class="t b" style="left:866.92px;top:310.28px;width:67.58px;height:12.42px;line-height:12.42px;text-align:right;transform-origin:100% 50%;">1.700</div>
<div class="t b" style="left:25.20px;top:322.71px;width:133.16px;height:12.42px;line-height:12.42px;text-align:left;transform-origin:0 50%;">Roding</div>
<div class="t b" style="left:155.00px;top:322.71px;width:164.32px;height:12.42px;line-height:12.42px;text-align:left;transform-origin:0 50%;">Stadtbücherei</div>
<div class="t o" style="left:314.40px;top:322.71px;width:76.11px;height:12.42px;line-height:12.42px;text-align:left;transform-origin:0 50%;">Oberpfalz</div>
<div class="t b" style="left:386.64px;top:322.71px;width:55.16px;height:12.42px;line-height:12.42px;text-align:right;transform-origin:100% 50%;">1.112</div>
<div class="t b" style="left:442.23px;top:322.71px;width:55.47px;height:12.42px;line-height:12.42px;text-align:right;transform-origin:100% 50%;">880</div>
<div class="t b" style="left:498.14px;top:322.71px;width:55.16px;height:12.42px;line-height:12.42px;text-align:right;transform-origin:100% 50%;">1.127</div>
<div class="t b" style="left:553.72px;top:322.71px;width:55.68px;height:12.42px;line-height:12.42px;text-align:right;transform-origin:100% 50%;">1.260</div>
<div class="t b" style="left:609.82px;top:322.71px;width:55.58px;height:12.42px;line-height:12.42px;text-align:right;transform-origin:100% 50%;">1.204</div>
<div class="t b" style="left:665.25px;top:322.71px;width:66.95px;height:12.42px;line-height:12.42px;text-align:right;transform-origin:100% 50%;">15.748</div>
<div class="t b" style="left:732.02px;top:322.71px;width:67.58px;height:12.42px;line-height:12.42px;text-align:right;transform-origin:100% 50%;">14.984</div>
<div class="t b" style="left:799.42px;top:322.71px;width:67.68px;height:12.42px;line-height:12.42px;text-align:right;transform-origin:100% 50%;">15.736</div>
<div class="t b" style="left:866.92px;top:322.71px;width:67.58px;height:12.42px;line-height:12.42px;text-align:right;transform-origin:100% 50%;">17.000</div>
<div class="t b" style="left:25.20px;top:335.13px;width:133.16px;height:12.42px;line-height:12.42px;text-align:left;transform-origin:0 50%;">Rötz</div>
<div class="t b" style="left:155.00px;top:335.13px;width:164.32px;height:12.42px;line-height:12.42px;text-align:left;transform-origin:0 50%;letter-spacing:-0.055px">Kath. Öffentliche Bücherei</div>
<div class="t o" style="left:314.40px;top:335.13px;width:76.11px;height:12.42px;line-height:12.42px;text-align:left;transform-origin:0 50%;">Oberpfalz</div>
<div class="t b" style="left:386.64px;top:335.13px;width:55.16px;height:12.42px;line-height:12.42px;text-align:right;transform-origin:100% 50%;">90</div>
<div class="t b" style="left:442.23px;top:335.13px;width:55.47px;height:12.42px;line-height:12.42px;text-align:right;transform-origin:100% 50%;">69</div>
<div class="t b" style="left:498.14px;top:335.13px;width:55.16px;height:12.42px;line-height:12.42px;text-align:right;transform-origin:100% 50%;">47</div>
<div class="t b" style="left:553.72px;top:335.13px;width:55.68px;height:12.42px;line-height:12.42px;text-align:right;transform-origin:100% 50%;">51</div>
<div class="t b" style="left:609.82px;top:335.13px;width:55.58px;height:12.42px;line-height:12.42px;text-align:right;transform-origin:100% 50%;">41</div>
<div class="t b" style="left:665.25px;top:335.13px;width:66.95px;height:12.42px;line-height:12.42px;text-align:right;transform-origin:100% 50%;">900</div>
<div class="t b" style="left:732.02px;top:335.13px;width:67.58px;height:12.42px;line-height:12.42px;text-align:right;transform-origin:100% 50%;">690</div>
<div class="t b" style="left:799.42px;top:335.13px;width:67.68px;height:12.42px;line-height:12.42px;text-align:right;transform-origin:100% 50%;">470</div>
<div class="t b" style="left:866.92px;top:335.13px;width:67.58px;height:12.42px;line-height:12.42px;text-align:right;transform-origin:100% 50%;">510</div>
<div class="t b" style="left:25.20px;top:347.56px;width:133.16px;height:12.42px;line-height:12.42px;text-align:left;transform-origin:0 50%;">Rötz</div>
<div class="t b" style="left:155.00px;top:347.56px;width:164.32px;height:12.42px;line-height:12.42px;text-align:left;transform-origin:0 50%;">Stadtbücherei</div>
<div class="t o" style="left:314.40px;top:347.56px;width:76.11px;height:12.42px;line-height:12.42px;text-align:left;transform-origin:0 50%;">Oberpfalz</div>
<div class="t b" style="left:386.64px;top:347.56px;width:55.16px;height:12.42px;line-height:12.42px;text-align:right;transform-origin:100% 50%;">335</div>
<div class="t b" style="left:442.23px;top:347.56px;width:55.47px;height:12.42px;line-height:12.42px;text-align:right;transform-origin:100% 50%;">337</div>
<div class="t b" style="left:498.14px;top:347.56px;width:55.16px;height:12.42px;line-height:12.42px;text-align:right;transform-origin:100% 50%;">382</div>
<div class="t b" style="left:553.72px;top:347.56px;width:55.68px;height:12.42px;line-height:12.42px;text-align:right;transform-origin:100% 50%;">388</div>
<div class="t b" style="left:609.82px;top:347.56px;width:55.58px;height:12.42px;line-height:12.42px;text-align:right;transform-origin:100% 50%;">379</div>
<div class="t b" style="left:665.25px;top:347.56px;width:66.95px;height:12.42px;line-height:12.42px;text-align:right;transform-origin:100% 50%;">5.892</div>
<div class="t b" style="left:732.02px;top:347.56px;width:67.58px;height:12.42px;line-height:12.42px;text-align:right;transform-origin:100% 50%;">5.362</div>
<div class="t b" style="left:799.42px;top:347.56px;width:67.68px;height:12.42px;line-height:12.42px;text-align:right;transform-origin:100% 50%;">5.911</div>
<div class="t b" style="left:866.92px;top:347.56px;width:67.58px;height:12.42px;line-height:12.42px;text-align:right;transform-origin:100% 50%;">6.333</div>
<div class="t b" style="left:25.20px;top:359.98px;width:133.16px;height:12.42px;line-height:12.42px;text-align:left;transform-origin:0 50%;">Schierling</div>
<div class="t b" style="left:155.00px;top:359.98px;width:164.32px;height:12.42px;line-height:12.42px;text-align:left;transform-origin:0 50%;">Gemeindebücherei</div>
<div class="t o" style="left:314.40px;top:359.98px;width:76.11px;height:12.42px;line-height:12.42px;text-align:left;transform-origin:0 50%;">Oberpfalz</div>
<div class="t b" style="left:386.64px;top:359.98px;width:55.16px;height:12.42px;line-height:12.42px;text-align:right;transform-origin:100% 50%;">1.170</div>
<div class="t b" style="left:442.23px;top:359.98px;width:55.47px;height:12.42px;line-height:12.42px;text-align:right;transform-origin:100% 50%;">1.214</div>
<div class="t b" style="left:498.14px;top:359.98px;width:55.16px;height:12.42px;line-height:12.42px;text-align:right;transform-origin:100% 50%;">1.020</div>
<div class="t b" style="left:553.72px;top:359.98px;width:55.68px;height:12.42px;line-height:12.42px;text-align:right;transform-origin:100% 50%;">1.207</div>
<div class="t b" style="left:609.82px;top:359.98px;width:55.58px;height:12.42px;line-height:12.42px;text-align:right;transform-origin:100% 50%;">1.220</div>
<div class="t b" style="left:665.25px;top:359.98px;width:66.95px;height:12.42px;line-height:12.42px;text-align:right;transform-origin:100% 50%;">38.720</div>
<div class="t b" style="left:732.02px;top:359.98px;width:67.58px;height:12.42px;line-height:12.42px;text-align:right;transform-origin:100% 50%;">25.289</div>
<div class="t b" style="left:799.42px;top:359.98px;width:67.68px;height:12.42px;line-height:12.42px;text-align:right;transform-origin:100% 50%;">20.000</div>
<div class="t b" style="left:866.92px;top:359.98px;width:67.58px;height:12.42px;line-height:12.42px;text-align:right;transform-origin:100% 50%;">20.000</div>
<div class="t b" style="left:25.20px;top:372.40px;width:133.16px;height:12.42px;line-height:12.42px;text-align:left;transform-origin:0 50%;">Schirmitz</div>
<div class="t b" style="left:155.00px;top:372.40px;width:164.32px;height:12.42px;line-height:12.42px;text-align:left;transform-origin:0 50%;">Gemeindebücherei</div>
<div class="t o" style="left:314.40px;top:372.40px;width:76.11px;height:12.42px;line-height:12.42px;text-align:left;transform-origin:0 50%;">Oberpfalz</div>
<div class="t b" style="left:386.64px;top:372.40px;width:55.16px;height:12.42px;line-height:12.42px;text-align:right;transform-origin:100% 50%;">244</div>
<div class="t b" style="left:442.23px;top:372.40px;width:55.47px;height:12.42px;line-height:12.42px;text-align:right;transform-origin:100% 50%;">241</div>
<div class="t b" style="left:498.14px;top:372.40px;width:55.16px;height:12.42px;line-height:12.42px;text-align:right;transform-origin:100% 50%;">255</div>
<div class="t b" style="left:553.72px;top:372.40px;width:55.68px;height:12.42px;line-height:12.42px;text-align:right;transform-origin:100% 50%;">242</div>
<div class="t b" style="left:609.82px;top:372.40px;width:55.58px;height:12.42px;line-height:12.42px;text-align:right;transform-origin:100% 50%;">231</div>
<div class="t b" style="left:665.25px;top:372.40px;width:66.95px;height:12.42px;line-height:12.42px;text-align:right;transform-origin:100% 50%;">3.658</div>
<div class="t b" style="left:732.02px;top:372.40px;width:67.58px;height:12.42px;line-height:12.42px;text-align:right;transform-origin:100% 50%;">3.710</div>
<div class="t b" style="left:799.42px;top:372.40px;width:67.68px;height:12.42px;line-height:12.42px;text-align:right;transform-origin:100% 50%;">4.115</div>
<div class="t b" style="left:866.92px;top:372.40px;width:67.58px;height:12.42px;line-height:12.42px;text-align:right;transform-origin:100% 50%;">4.553</div>
<div class="t b" style="left:25.20px;top:384.83px;width:133.16px;height:12.42px;line-height:12.42px;text-align:left;transform-origin:0 50%;">Schmidgaden</div>
<div class="t b" style="left:155.00px;top:384.83px;width:164.32px;height:12.42px;line-height:12.42px;text-align:left;transform-origin:0 50%;letter-spacing:-0.055px">Kath. Öffentliche Bücherei</div>
<div class="t o" style="left:314.40px;top:384.83px;width:76.11px;height:12.42px;line-height:12.42px;text-align:left;transform-origin:0 50%;">Oberpfalz</div>
<div class="t b" style="left:386.64px;top:384.83px;width:55.16px;height:12.42px;line-height:12.42px;text-align:right;transform-origin:100% 50%;">220</div>
<div class="t b" style="left:442.23px;top:384.83px;width:55.47px;height:12.42px;line-height:12.42px;text-align:right;transform-origin:100% 50%;">210</div>
<div class="t b" style="left:498.14px;top:384.83px;width:55.16px;height:12.42px;line-height:12.42px;text-align:right;transform-origin:100% 50%;">235</div>
<div class="t b" style="left:553.72px;top:384.83px;width:55.68px;height:12.42px;line-height:12.42px;text-align:right;transform-origin:100% 50%;">258</div>
<div class="t b" style="left:609.82px;top:384.83px;width:55.58px;height:12.42px;line-height:12.42px;text-align:right;transform-origin:100% 50%;">235</div>
<div class="t b" style="left:665.25px;top:384.83px;width:66.95px;height:12.42px;line-height:12.42px;text-align:right;transform-origin:100% 50%;">2.337</div>
<div class="t b" style="left:732.02px;top:384.83px;width:67.58px;height:12.42px;line-height:12.42px;text-align:right;transform-origin:100% 50%;">2.221</div>
<div class="t b" style="left:799.42px;top:384.83px;width:67.68px;height:12.42px;line-height:12.42px;text-align:right;transform-origin:100% 50%;">2.460</div>
<div class="t b" style="left:866.92px;top:384.83px;width:67.58px;height:12.42px;line-height:12.42px;text-align:right;transform-origin:100% 50%;">2.580</div>
<div class="t b" style="left:25.20px;top:397.25px;width:133.16px;height:12.42px;line-height:12.42px;text-align:left;transform-origin:0 50%;">Schmidmühlen</div>
<div class="t b" style="left:155.00px;top:397.25px;width:164.32px;height:12.42px;line-height:12.42px;text-align:left;transform-origin:0 50%;letter-spacing:-0.055px">Kath. Öffentliche Bücherei</div>
<div class="t o" style="left:314.40px;top:397.25px;width:76.11px;height:12.42px;line-height:12.42px;text-align:left;transform-origin:0 50%;">Oberpfalz</div>
<div class="t b" style="left:386.64px;top:397.25px;width:55.16px;height:12.42px;line-height:12.42px;text-align:right;transform-origin:100% 50%;">443</div>
<div class="t b" style="left:442.23px;top:397.25px;width:55.47px;height:12.42px;line-height:12.42px;text-align:right;transform-origin:100% 50%;">415</div>
<div class="t b" style="left:498.14px;top:397.25px;width:55.16px;height:12.42px;line-height:12.42px;text-align:right;transform-origin:100% 50%;">373</div>
<div class="t b" style="left:553.72px;top:397.25px;width:55.68px;height:12.42px;line-height:12.42px;text-align:right;transform-origin:100% 50%;">358</div>
<div class="t b" style="left:609.82px;top:397.25px;width:55.58px;height:12.42px;line-height:12.42px;text-align:right;transform-origin:100% 50%;">408</div>
<div class="t b" style="left:665.25px;top:397.25px;width:66.95px;height:12.42px;line-height:12.42px;text-align:right;transform-origin:100% 50%;">8.727</div>
<div class="t b" style="left:732.02px;top:397.25px;width:67.58px;height:12.42px;line-height:12.42px;text-align:right;transform-origin:100% 50%;">6.770</div>
<div class="t b" style="left:799.42px;top:397.25px;width:67.68px;height:12.42px;line-height:12.42px;text-align:right;transform-origin:100% 50%;">4.691</div>
<div class="t b" style="left:866.92px;top:397.25px;width:67.58px;height:12.42px;line-height:12.42px;text-align:right;transform-origin:100% 50%;">4.685</div>
<div class="t b" style="left:25.20px;top:409.68px;width:133.16px;height:12.42px;line-height:12.42px;text-align:left;transform-origin:0 50%;">Schnaittenbach</div>
<div class="t b" style="left:155.00px;top:409.68px;width:164.32px;height:12.42px;line-height:12.42px;text-align:left;transform-origin:0 50%;letter-spacing:-0.025px">Stadt- und Pfarrbücherei</div>
<div class="t o" style="left:314.40px;top:409.68px;width:76.11px;height:12.42px;line-height:12.42px;text-align:left;transform-origin:0 50%;">Oberpfalz</div>
<div class="t b" style="left:386.64px;top:409.68px;width:55.16px;height:12.42px;line-height:12.42px;text-align:right;transform-origin:100% 50%;">295</div>
<div class="t b" style="left:442.23px;top:409.68px;width:55.47px;height:12.42px;line-height:12.42px;text-align:right;transform-origin:100% 50%;">284</div>
<div class="t b" style="left:498.14px;top:409.68px;width:55.16px;height:12.42px;line-height:12.42px;text-align:right;transform-origin:100% 50%;">258</div>
<div class="t b" style="left:553.72px;top:409.68px;width:55.68px;height:12.42px;line-height:12.42px;text-align:right;transform-origin:100% 50%;">213</div>
<div class="t b" style="left:609.82px;top:409.68px;width:55.58px;height:12.42px;line-height:12.42px;text-align:right;transform-origin:100% 50%;">355</div>
<div class="t b" style="left:665.25px;top:409.68px;width:66.95px;height:12.42px;line-height:12.42px;text-align:right;transform-origin:100% 50%;">2.950</div>
<div class="t b" style="left:732.02px;top:409.68px;width:67.58px;height:12.42px;line-height:12.42px;text-align:right;transform-origin:100% 50%;">3.800</div>
<div class="t b" style="left:799.42px;top:409.68px;width:67.68px;height:12.42px;line-height:12.42px;text-align:right;transform-origin:100% 50%;">4.600</div>
<div class="t b" style="left:866.92px;top:409.68px;width:67.58px;height:12.42px;line-height:12.42px;text-align:right;transform-origin:100% 50%;">2.130</div>
<div class="t b" style="left:25.20px;top:422.10px;width:133.16px;height:12.42px;line-height:12.42px;text-align:left;transform-origin:0 50%;">Schönthal/Oberpf.</div>
<div class="t b" style="left:155.00px;top:422.10px;width:164.32px;height:12.42px;line-height:12.42px;text-align:left;transform-origin:0 50%;letter-spacing:-0.025px">Gemeindebücherei St. Michael</div>
<div class="t o" style="left:314.40px;top:422.10px;width:76.11px;height:12.42px;line-height:12.42px;text-align:left;transform-origin:0 50%;">Oberpfalz</div>
<div class="t b" style="left:386.64px;top:422.10px;width:55.16px;height:12.42px;line-height:12.42px;text-align:right;transform-origin:100% 50%;">571</div>
<div class="t b" style="left:442.23px;top:422.10px;width:55.47px;height:12.42px;line-height:12.42px;text-align:right;transform-origin:100% 50%;">622</div>
<div class="t b" style="left:498.14px;top:422.10px;width:55.16px;height:12.42px;line-height:12.42px;text-align:right;transform-origin:100% 50%;">633</div>
<div class="t b" style="left:553.72px;top:422.10px;width:55.68px;height:12.42px;line-height:12.42px;text-align:right;transform-origin:100% 50%;">645</div>
<div class="t b" style="left:609.82px;top:422.10px;width:55.58px;height:12.42px;line-height:12.42px;text-align:right;transform-origin:100% 50%;">649</div>
<div class="t b" style="left:665.25px;top:422.10px;width:66.95px;height:12.42px;line-height:12.42px;text-align:right;transform-origin:100% 50%;">5.886</div>
<div class="t b" style="left:732.02px;top:422.10px;width:67.58px;height:12.42px;line-height:12.42px;text-align:right;transform-origin:100% 50%;">6.098</div>
<div class="t b" style="left:799.42px;top:422.10px;width:67.68px;height:12.42px;line-height:12.42px;text-align:right;transform-origin:100% 50%;">6.531</div>
<div class="t b" style="left:866.92px;top:422.10px;width:67.58px;height:12.42px;line-height:12.42px;text-align:right;transform-origin:100% 50%;">6.523</div>
<div class="t b" style="left:25.20px;top:434.52px;width:133.16px;height:12.42px;line-height:12.42px;text-align:left;transform-origin:0 50%;">Schorndorf/Oberpf.</div>
<div class="t b" style="left:155.00px;top:434.52px;width:164.32px;height:12.42px;line-height:12.42px;text-align:left;transform-origin:0 50%;">Gemeindebücherei</div>
<div class="t o" style="left:314.40px;top:434.52px;width:76.11px;height:12.42px;line-height:12.42px;text-align:left;transform-origin:0 50%;">Oberpfalz</div>
<div class="t b" style="left:386.64px;top:434.52px;width:55.16px;height:12.42px;line-height:12.42px;text-align:right;transform-origin:100% 50%;">361</div>
<div class="t b" style="left:442.23px;top:434.52px;width:55.47px;height:12.42px;line-height:12.42px;text-align:right;transform-origin:100% 50%;">268</div>
<div class="t b" style="left:498.14px;top:434.52px;width:55.16px;height:12.42px;line-height:12.42px;text-align:right;transform-origin:100% 50%;">227</div>
<div class="t b" style="left:553.72px;top:434.52px;width:55.68px;height:12.42px;line-height:12.42px;text-align:right;transform-origin:100% 50%;">209</div>
<div class="t b" style="left:609.82px;top:434.52px;width:55.58px;height:12.42px;line-height:12.42px;text-align:right;transform-origin:100% 50%;">198</div>
<div class="t b" style="left:665.25px;top:434.52px;width:66.95px;height:12.42px;line-height:12.42px;text-align:right;transform-origin:100% 50%;">5.054</div>
<div class="t b" style="left:732.02px;top:434.52px;width:67.58px;height:12.42px;line-height:12.42px;text-align:right;transform-origin:100% 50%;">3.752</div>
<div class="t b" style="left:799.42px;top:434.52px;width:67.68px;height:12.42px;line-height:12.42px;text-align:right;transform-origin:100% 50%;">3.178</div>
<div class="t b" style="left:866.92px;top:434.52px;width:67.58px;height:12.42px;line-height:12.42px;text-align:right;transform-origin:100% 50%;">2.926</div>
<div class="t b" style="left:25.20px;top:446.95px;width:133.16px;height:12.42px;line-height:12.42px;text-align:left;transform-origin:0 50%;">Schwandorf</div>
<div class="t b" style="left:155.00px;top:446.95px;width:164.32px;height:12.42px;line-height:12.42px;text-align:left;transform-origin:0 50%;letter-spacing:-0.085px">Kath. Öffentliche Bücherei St. Konrad</div>
<div class="t o" style="left:314.40px;top:446.95px;width:76.11px;height:12.42px;line-height:12.42px;text-align:left;transform-origin:0 50%;">Oberpfalz</div>
<div class="t b" style="left:386.64px;top:446.95px;width:55.16px;height:12.42px;line-height:12.42px;text-align:right;transform-origin:100% 50%;">168</div>
<div class="t b" style="left:442.23px;top:446.95px;width:55.47px;height:12.42px;line-height:12.42px;text-align:right;transform-origin:100% 50%;">232</div>
<div class="t b" style="left:498.14px;top:446.95px;width:55.16px;height:12.42px;line-height:12.42px;text-align:right;transform-origin:100% 50%;">318</div>
<div class="t b" style="left:553.72px;top:446.95px;width:55.68px;height:12.42px;line-height:12.42px;text-align:right;transform-origin:100% 50%;">340</div>
<div class="t b" style="left:609.82px;top:446.95px;width:55.58px;height:12.42px;line-height:12.42px;text-align:right;transform-origin:100% 50%;">337</div>
<div class="t b" style="left:665.25px;top:446.95px;width:66.95px;height:12.42px;line-height:12.42px;text-align:right;transform-origin:100% 50%;">1.646</div>
<div class="t b" style="left:732.02px;top:446.95px;width:67.58px;height:12.42px;line-height:12.42px;text-align:right;transform-origin:100% 50%;">2.283</div>
<div class="t b" style="left:799.42px;top:446.95px;width:67.68px;height:12.42px;line-height:12.42px;text-align:right;transform-origin:100% 50%;">3.123</div>
<div class="t b" style="left:866.92px;top:446.95px;width:67.58px;height:12.42px;line-height:12.42px;text-align:right;transform-origin:100% 50%;">1.991</div>
<div class="t b" style="left:25.20px;top:459.37px;width:133.16px;height:12.42px;line-height:12.42px;text-align:left;transform-origin:0 50%;">Schwandorf</div>
<div class="t b" style="left:155.00px;top:459.37px;width:164.32px;height:12.42px;line-height:12.42px;text-align:left;transform-origin:0 50%;">Stadtbibliothek</div>
<div class="t o" style="left:314.40px;top:459.37px;width:76.11px;height:12.42px;line-height:12.42px;text-align:left;transform-origin:0 50%;">Oberpfalz</div>
<div class="t b" style="left:386.64px;top:459.37px;width:55.16px;height:12.42px;line-height:12.42px;text-align:right;transform-origin:100% 50%;">4.701</div>
<div class="t b" style="left:442.23px;top:459.37px;width:55.47px;height:12.42px;line-height:12.42px;text-align:right;transform-origin:100% 50%;">4.485</div>
<div class="t b" style="left:498.14px;top:459.37px;width:55.16px;height:12.42px;line-height:12.42px;text-align:right;transform-origin:100% 50%;">4.364</div>
<div class="t b" style="left:553.72px;top:459.37px;width:55.68px;height:12.42px;line-height:12.42px;text-align:right;transform-origin:100% 50%;">4.222</div>
<div class="t b" style="left:609.82px;top:459.37px;width:55.58px;height:12.42px;line-height:12.42px;text-align:right;transform-origin:100% 50%;">3.741</div>
<div class="t b" style="left:665.25px;top:459.37px;width:66.95px;height:12.42px;line-height:12.42px;text-align:right;transform-origin:100% 50%;">82.904</div>
<div class="t b" style="left:732.02px;top:459.37px;width:67.58px;height:12.42px;line-height:12.42px;text-align:right;transform-origin:100% 50%;">81.537</div>
<div class="t b" style="left:799.42px;top:459.37px;width:67.68px;height:12.42px;line-height:12.42px;text-align:right;transform-origin:100% 50%;">81.202</div>
<div class="t b" style="left:866.92px;top:459.37px;width:67.58px;height:12.42px;line-height:12.42px;text-align:right;transform-origin:100% 50%;">78.888</div>
<div class="t b" style="left:25.20px;top:471.80px;width:133.16px;height:12.42px;line-height:12.42px;text-align:left;transform-origin:0 50%;">Schwarzenfeld</div>
<div class="t b" style="left:155.00px;top:471.80px;width:164.32px;height:12.42px;line-height:12.42px;text-align:left;transform-origin:0 50%;">Gemeindebücherei</div>
<div class="t o" style="left:314.40px;top:471.80px;width:76.11px;height:12.42px;line-height:12.42px;text-align:left;transform-origin:0 50%;">Oberpfalz</div>
<div class="t b" style="left:386.64px;top:471.80px;width:55.16px;height:12.42px;line-height:12.42px;text-align:right;transform-origin:100% 50%;">742</div>
<div class="t b" style="left:442.23px;top:471.80px;width:55.47px;height:12.42px;line-height:12.42px;text-align:right;transform-origin:100% 50%;">845</div>
<div class="t b" style="left:498.14px;top:471.80px;width:55.16px;height:12.42px;line-height:12.42px;text-align:right;transform-origin:100% 50%;">556</div>
<div class="t b" style="left:553.72px;top:471.80px;width:55.68px;height:12.42px;line-height:12.42px;text-align:right;transform-origin:100% 50%;">619</div>
<div class="t b" style="left:609.82px;top:471.80px;width:55.58px;height:12.42px;line-height:12.42px;text-align:right;transform-origin:100% 50%;">610</div>
<div class="t b" style="left:665.25px;top:471.80px;width:66.95px;height:12.42px;line-height:12.42px;text-align:right;transform-origin:100% 50%;">8.840</div>
<div class="t b" style="left:732.02px;top:471.80px;width:67.58px;height:12.42px;line-height:12.42px;text-align:right;transform-origin:100% 50%;">9.320</div>
<div class="t b" style="left:799.42px;top:471.80px;width:67.68px;height:12.42px;line-height:12.42px;text-align:right;transform-origin:100% 50%;">6.000</div>
<div class="t b" style="left:866.92px;top:471.80px;width:67.58px;height:12.42px;line-height:12.42px;text-align:right;transform-origin:100% 50%;">6.838</div>
<div class="t b" style="left:25.20px;top:484.22px;width:133.16px;height:12.42px;line-height:12.42px;text-align:left;transform-origin:0 50%;">Schwarzhofen</div>
<div class="t b" style="left:155.00px;top:484.22px;width:164.32px;height:12.42px;line-height:12.42px;text-align:left;transform-origin:0 50%;">Marktbibliothek</div>
<div class="t o" style="left:314.40px;top:484.22px;width:76.11px;height:12.42px;line-height:12.42px;text-align:left;transform-origin:0 50%;">Oberpfalz</div>
<div class="t b" style="left:386.64px;top:484.22px;width:55.16px;height:12.42px;line-height:12.42px;text-align:right;transform-origin:100% 50%;">266</div>
<div class="t b" style="left:442.23px;top:484.22px;width:55.47px;height:12.42px;line-height:12.42px;text-align:right;transform-origin:100% 50%;">313</div>
<div class="t b" style="left:498.14px;top:484.22px;width:55.16px;height:12.42px;line-height:12.42px;text-align:right;transform-origin:100% 50%;">321</div>
<div class="t b" style="left:553.72px;top:484.22px;width:55.68px;height:12.42px;line-height:12.42px;text-align:right;transform-origin:100% 50%;">262</div>
<div class="t b" style="left:609.82px;top:484.22px;width:55.58px;height:12.42px;line-height:12.42px;text-align:right;transform-origin:100% 50%;">186</div>
<div class="t b" style="left:665.25px;top:484.22px;width:66.95px;height:12.42px;line-height:12.42px;text-align:right;transform-origin:100% 50%;">3.721</div>
<div class="t b" style="left:732.02px;top:484.22px;width:67.58px;height:12.42px;line-height:12.42px;text-align:right;transform-origin:100% 50%;">4.382</div>
<div class="t b" style="left:799.42px;top:484.22px;width:67.68px;height:12.42px;line-height:12.42px;text-align:right;transform-origin:100% 50%;">4.494</div>
<div class="t b" style="left:866.92px;top:484.22px;width:67.58px;height:12.42px;line-height:12.42px;text-align:right;transform-origin:100% 50%;">3.668</div>
<div class="t b" style="left:25.20px;top:496.64px;width:133.16px;height:12.42px;line-height:12.42px;text-align:left;transform-origin:0 50%;">Sengenthal</div>
<div class="t b" style="left:155.00px;top:496.64px;width:164.32px;height:12.42px;line-height:12.42px;text-align:left;transform-origin:0 50%;letter-spacing:-0.055px">Pfarr- und Gemeindebücherei</div>
<div class="t o" style="left:314.40px;top:496.64px;width:76.11px;height:12.42px;line-height:12.42px;text-align:left;transform-origin:0 50%;">Oberpfalz</div>
<div class="t b" style="left:386.64px;top:496.64px;width:55.16px;height:12.42px;line-height:12.42px;text-align:right;transform-origin:100% 50%;">321</div>
<div class="t b" style="left:442.23px;top:496.64px;width:55.47px;height:12.42px;line-height:12.42px;text-align:right;transform-origin:100% 50%;">286</div>
<div class="t b" style="left:498.14px;top:496.64px;width:55.16px;height:12.42px;line-height:12.42px;text-align:right;transform-origin:100% 50%;">264</div>
<div class="t b" style="left:553.72px;top:496.64px;width:55.68px;height:12.42px;line-height:12.42px;text-align:right;transform-origin:100% 50%;">255</div>
<div class="t b" style="left:609.82px;top:496.64px;width:55.58px;height:12.42px;line-height:12.42px;text-align:right;transform-origin:100% 50%;">270</div>
<div class="t b" style="left:665.25px;top:496.64px;width:66.95px;height:12.42px;line-height:12.42px;text-align:right;transform-origin:100% 50%;">2.940</div>
<div class="t b" style="left:732.02px;top:496.64px;width:67.58px;height:12.42px;line-height:12.42px;text-align:right;transform-origin:100% 50%;">2.368</div>
<div class="t b" style="left:799.42px;top:496.64px;width:67.68px;height:12.42px;line-height:12.42px;text-align:right;transform-origin:100% 50%;">1.937</div>
<div class="t b" style="left:866.92px;top:496.64px;width:67.58px;height:12.42px;line-height:12.42px;text-align:right;transform-origin:100% 50%;">1.751</div>
<div class="t b" style="left:25.20px;top:509.07px;width:133.16px;height:12.42px;line-height:12.42px;text-align:left;transform-origin:0 50%;">Sengenthal</div>
<div class="t b" style="left:155.00px;top:509.07px;width:164.32px;height:12.42px;line-height:12.42px;text-align:left;transform-origin:0 50%;letter-spacing:-0.085px">Bücherei St. Nikolaus Reichertshofen</div>
<div class="t o" style="left:314.40px;top:509.07px;width:76.11px;height:12.42px;line-height:12.42px;text-align:left;transform-origin:0 50%;">Oberpfalz</div>
<div class="t b" style="left:386.64px;top:509.07px;width:55.16px;height:12.42px;line-height:12.42px;text-align:right;transform-origin:100% 50%;">104</div>
<div class="t b" style="left:442.23px;top:509.07px;width:55.47px;height:12.42px;line-height:12.42px;text-align:right;transform-origin:100% 50%;">92</div>
<div class="t b" style="left:498.14px;top:509.07px;width:55.16px;height:12.42px;line-height:12.42px;text-align:right;transform-origin:100% 50%;">81</div>
<div class="t b" style="left:553.72px;top:509.07px;width:55.68px;height:12.42px;line-height:12.42px;text-align:right;transform-origin:100% 50%;">75</div>
<div class="t b" style="left:609.82px;top:509.07px;width:55.58px;height:12.42px;line-height:12.42px;text-align:right;transform-origin:100% 50%;">73</div>
<div class="t b" style="left:665.25px;top:509.07px;width:66.95px;height:12.42px;line-height:12.42px;text-align:right;transform-origin:100% 50%;">1.800</div>
<div class="t b" style="left:732.02px;top:509.07px;width:67.58px;height:12.42px;line-height:12.42px;text-align:right;transform-origin:100% 50%;">1.750</div>
<div class="t b" style="left:799.42px;top:509.07px;width:67.68px;height:12.42px;line-height:12.42px;text-align:right;transform-origin:100% 50%;">1.600</div>
<div class="t b" style="left:866.92px;top:509.07px;width:67.58px;height:12.42px;line-height:12.42px;text-align:right;transform-origin:100% 50%;">1.650</div>
<div class="t b" style="left:25.20px;top:521.49px;width:133.16px;height:12.42px;line-height:12.42px;text-align:left;transform-origin:0 50%;">Seubersdorf</div>
<div class="t b" style="left:155.00px;top:521.49px;width:164.32px;height:12.42px;line-height:12.42px;text-align:left;transform-origin:0 50%;letter-spacing:-0.055px">Kath. Öffentliche Bücherei</div>
<div class="t o" style="left:314.40px;top:521.49px;width:76.11px;height:12.42px;line-height:12.42px;text-align:left;transform-origin:0 50%;">Oberpfalz</div>
<div class="t b" style="left:386.64px;top:521.49px;width:55.16px;height:12.42px;line-height:12.42px;text-align:right;transform-origin:100% 50%;">394</div>
<div class="t b" style="left:442.23px;top:521.49px;width:55.47px;height:12.42px;line-height:12.42px;text-align:right;transform-origin:100% 50%;">521</div>
<div class="t b" style="left:498.14px;top:521.49px;width:55.16px;height:12.42px;line-height:12.42px;text-align:right;transform-origin:100% 50%;">390</div>
<div class="t b" style="left:553.72px;top:521.49px;width:55.68px;height:12.42px;line-height:12.42px;text-align:right;transform-origin:100% 50%;">369</div>
<div class="t b" style="left:609.82px;top:521.49px;width:55.58px;height:12.42px;line-height:12.42px;text-align:right;transform-origin:100% 50%;">388</div>
<div class="t b" style="left:665.25px;top:521.49px;width:66.95px;height:12.42px;line-height:12.42px;text-align:right;transform-origin:100% 50%;">6.564</div>
<div class="t b" style="left:732.02px;top:521.49px;width:67.58px;height:12.42px;line-height:12.42px;text-align:right;transform-origin:100% 50%;">5.500</div>
<div class="t b" style="left:799.42px;top:521.49px;width:67.68px;height:12.42px;line-height:12.42px;text-align:right;transform-origin:100% 50%;">5.274</div>
<div class="t b" style="left:866.92px;top:521.49px;width:67.58px;height:12.42px;line-height:12.42px;text-align:right;transform-origin:100% 50%;">6.292</div>
<div class="t b" style="left:25.20px;top:533.92px;width:133.16px;height:12.42px;line-height:12.42px;text-align:left;transform-origin:0 50%;">Seubersdorf</div>
<div class="t b" style="left:155.00px;top:533.92px;width:164.32px;height:12.42px;line-height:12.42px;text-align:left;transform-origin:0 50%;letter-spacing:-0.125px">Kath. Öffentliche Bücherei Wissing</div>
<div class="t o" style="left:314.40px;top:533.92px;width:76.11px;height:12.42px;line-height:12.42px;text-align:left;transform-origin:0 50%;">Oberpfalz</div>
<div class="t b" style="left:386.64px;top:533.92px;width:55.16px;height:12.42px;line-height:12.42px;text-align:right;transform-origin:100% 50%;">148</div>
<div class="t b" style="left:442.23px;top:533.92px;width:55.47px;height:12.42px;line-height:12.42px;text-align:right;transform-origin:100% 50%;">137</div>
<div class="t b" style="left:498.14px;top:533.92px;width:55.16px;height:12.42px;line-height:12.42px;text-align:right;transform-origin:100% 50%;">113</div>
<div class="t b" style="left:553.72px;top:533.92px;width:55.68px;height:12.42px;line-height:12.42px;text-align:right;transform-origin:100% 50%;">92</div>
<div class="t b" style="left:609.82px;top:533.92px;width:55.58px;height:12.42px;line-height:12.42px;text-align:right;transform-origin:100% 50%;">109</div>
<div class="t b" style="left:665.25px;top:533.92px;width:66.95px;height:12.42px;line-height:12.42px;text-align:right;transform-origin:100% 50%;">1.250</div>
<div class="t b" style="left:732.02px;top:533.92px;width:67.58px;height:12.42px;line-height:12.42px;text-align:right;transform-origin:100% 50%;">1.265</div>
<div class="t b" style="left:799.42px;top:533.92px;width:67.68px;height:12.42px;line-height:12.42px;text-align:right;transform-origin:100% 50%;">940</div>
<div class="t b" style="left:866.92px;top:533.92px;width:67.58px;height:12.42px;line-height:12.42px;text-align:right;transform-origin:100% 50%;">710</div>
<div class="t b" style="left:25.20px;top:546.34px;width:133.16px;height:12.42px;line-height:12.42px;text-align:left;transform-origin:0 50%;">Sinzing</div>
<div class="t b" style="left:155.00px;top:546.34px;width:164.32px;height:12.42px;line-height:12.42px;text-align:left;transform-origin:0 50%;letter-spacing:-0.085px">Kath. Öffentliche Bücherei Sinzing</div>
<div class="t o" style="left:314.40px;top:546.34px;width:76.11px;height:12.42px;line-height:12.42px;text-align:left;transform-origin:0 50%;">Oberpfalz</div>
<div class="t b" style="left:386.64px;top:546.34px;width:55.16px;height:12.42px;line-height:12.42px;text-align:right;transform-origin:100% 50%;">814</div>
<div class="t b" style="left:442.23px;top:546.34px;width:55.47px;height:12.42px;line-height:12.42px;text-align:right;transform-origin:100% 50%;">829</div>
<div class="t b" style="left:498.14px;top:546.34px;width:55.16px;height:12.42px;line-height:12.42px;text-align:right;transform-origin:100% 50%;">796</div>
<div class="t b" style="left:553.72px;top:546.34px;width:55.68px;height:12.42px;line-height:12.42px;text-align:right;transform-origin:100% 50%;">703</div>
<div class="t b" style="left:609.82px;top:546.34px;width:55.58px;height:12.42px;line-height:12.42px;text-align:right;transform-origin:100% 50%;">719</div>
<div class="t b" style="left:665.25px;top:546.34px;width:66.95px;height:12.42px;line-height:12.42px;text-align:right;transform-origin:100% 50%;">10.140</div>
<div class="t b" style="left:732.02px;top:546.34px;width:67.58px;height:12.42px;line-height:12.42px;text-align:right;transform-origin:100% 50%;">10.216</div>
<div class="t b" style="left:799.42px;top:546.34px;width:67.68px;height:12.42px;line-height:12.42px;text-align:right;transform-origin:100% 50%;">11.000</div>
<div class="t b" style="left:866.92px;top:546.34px;width:67.58px;height:12.42px;line-height:12.42px;text-align:right;transform-origin:100% 50%;">10.000</div>
<div class="t b" style="left:25.20px;top:558.76px;width:133.16px;height:12.42px;line-height:12.42px;text-align:left;transform-origin:0 50%;">Stamsried</div>
<div class="t b" style="left:155.00px;top:558.76px;width:164.32px;height:12.42px;line-height:12.42px;text-align:left;transform-origin:0 50%;letter-spacing:-0.055px">Kath. Öffentliche Bücherei</div>
<div class="t o" style="left:314.40px;top:558.76px;width:76.11px;height:12.42px;line-height:12.42px;text-align:left;transform-origin:0 50%;">Oberpfalz</div>
<div class="t b" style="left:386.64px;top:558.76px;width:55.16px;height:12.42px;line-height:12.42px;text-align:right;transform-origin:100% 50%;">203</div>
<div class="t b" style="left:442.23px;top:558.76px;width:55.47px;height:12.42px;line-height:12.42px;text-align:right;transform-origin:100% 50%;">208</div>
<div class="t b" style="left:498.14px;top:558.76px;width:55.16px;height:12.42px;line-height:12.42px;text-align:right;transform-origin:100% 50%;">216</div>
<div class="t b" style="left:553.72px;top:558.76px;width:55.68px;height:12.42px;line-height:12.42px;text-align:right;transform-origin:100% 50%;">226</div>
<div class="t b" style="left:609.82px;top:558.76px;width:55.58px;height:12.42px;line-height:12.42px;text-align:right;transform-origin:100% 50%;">199</div>
<div class="t b" style="left:665.25px;top:558.76px;width:66.95px;height:12.42px;line-height:12.42px;text-align:right;transform-origin:100% 50%;">2.030</div>
<div class="t b" style="left:732.02px;top:558.76px;width:67.58px;height:12.42px;line-height:12.42px;text-align:right;transform-origin:100% 50%;">2.010</div>
<div class="t b" style="left:799.42px;top:558.76px;width:67.68px;height:12.42px;line-height:12.42px;text-align:right;transform-origin:100% 50%;">2.035</div>
<div class="t b" style="left:866.92px;top:558.76px;width:67.58px;height:12.42px;line-height:12.42px;text-align:right;transform-origin:100% 50%;">1.997</div>
<div class="t b" style="left:25.20px;top:571.19px;width:133.16px;height:12.42px;line-height:12.42px;text-align:left;transform-origin:0 50%;">Steinberg a.See</div>
<div class="t b" style="left:155.00px;top:571.19px;width:164.32px;height:12.42px;line-height:12.42px;text-align:left;transform-origin:0 50%;">Gemeindebücherei</div>
<div class="t o" style="left:314.40px;top:571.19px;width:76.11px;height:12.42px;line-height:12.42px;text-align:left;transform-origin:0 50%;">Oberpfalz</div>
<div class="t b" style="left:386.64px;top:571.19px;width:55.16px;height:12.42px;line-height:12.42px;text-align:right;transform-origin:100% 50%;">235</div>
<div class="t b" style="left:442.23px;top:571.19px;width:55.47px;height:12.42px;line-height:12.42px;text-align:right;transform-origin:100% 50%;">144</div>
<div class="t b" style="left:498.14px;top:571.19px;width:55.16px;height:12.42px;line-height:12.42px;text-align:right;transform-origin:100% 50%;">130</div>
<div class="t b" style="left:553.72px;top:571.19px;width:55.68px;height:12.42px;line-height:12.42px;text-align:right;transform-origin:100% 50%;">154</div>
<div class="t b" style="left:609.82px;top:571.19px;width:55.58px;height:12.42px;line-height:12.42px;text-align:right;transform-origin:100% 50%;">173</div>
<div class="t b" style="left:665.25px;top:571.19px;width:66.95px;height:12.42px;line-height:12.42px;text-align:right;transform-origin:100% 50%;">3.290</div>
<div class="t b" style="left:732.02px;top:571.19px;width:67.58px;height:12.42px;line-height:12.42px;text-align:right;transform-origin:100% 50%;">2.016</div>
<div class="t b" style="left:799.42px;top:571.19px;width:67.68px;height:12.42px;line-height:12.42px;text-align:right;transform-origin:100% 50%;">1.820</div>
<div class="t b" style="left:866.92px;top:571.19px;width:67.58px;height:12.42px;line-height:12.42px;text-align:right;transform-origin:100% 50%;">2.156</div>
<div class="t b" style="left:25.20px;top:583.61px;width:133.16px;height:12.42px;line-height:12.42px;text-align:left;transform-origin:0 50%;">Sulzbach-R.</div>
<div class="t b" style="left:155.00px;top:583.61px;width:164.32px;height:12.42px;line-height:12.42px;text-align:left;transform-origin:0 50%;">Stadtbibliothek</div>
<div class="t o" style="left:314.40px;top:583.61px;width:76.11px;height:12.42px;line-height:12.42px;text-align:left;transform-origin:0 50%;">Oberpfalz</div>
<div class="t b" style="left:386.64px;top:583.61px;width:55.16px;height:12.42px;line-height:12.42px;text-align:right;transform-origin:100% 50%;">1.726</div>
<div class="t b" style="left:442.23px;top:583.61px;width:55.47px;height:12.42px;line-height:12.42px;text-align:right;transform-origin:100% 50%;">1.711</div>
<div class="t b" style="left:498.14px;top:583.61px;width:55.16px;height:12.42px;line-height:12.42px;text-align:right;transform-origin:100% 50%;">1.740</div>
<div class="t b" style="left:553.72px;top:583.61px;width:55.68px;height:12.42px;line-height:12.42px;text-align:right;transform-origin:100% 50%;">1.661</div>
<div class="t b" style="left:609.82px;top:583.61px;width:55.58px;height:12.42px;line-height:12.42px;text-align:right;transform-origin:100% 50%;">1.600</div>
<div class="t b" style="left:665.25px;top:583.61px;width:66.95px;height:12.42px;line-height:12.42px;text-align:right;transform-origin:100% 50%;">47.857</div>
<div class="t b" style="left:732.02px;top:583.61px;width:67.58px;height:12.42px;line-height:12.42px;text-align:right;transform-origin:100% 50%;">44.071</div>
<div class="t b" style="left:799.42px;top:583.61px;width:67.68px;height:12.42px;line-height:12.42px;text-align:right;transform-origin:100% 50%;">46.095</div>
<div class="t b" style="left:866.92px;top:583.61px;width:67.58px;height:12.42px;line-height:12.42px;text-align:right;transform-origin:100% 50%;">43.122</div>
<div class="t b" style="left:25.20px;top:596.04px;width:133.16px;height:12.42px;line-height:12.42px;text-align:left;transform-origin:0 50%;">Sünching</div>
<div class="t b" style="left:155.00px;top:596.04px;width:164.32px;height:12.42px;line-height:12.42px;text-align:left;transform-origin:0 50%;letter-spacing:-0.085px">Öffentliche Bücherei des Schulverbands</div>
<div class="t o" style="left:314.40px;top:596.04px;width:76.11px;height:12.42px;line-height:12.42px;text-align:left;transform-origin:0 50%;">Oberpfalz</div>
<div class="t b" style="left:386.64px;top:596.04px;width:55.16px;height:12.42px;line-height:12.42px;text-align:right;transform-origin:100% 50%;">181</div>
<div class="t b" style="left:442.23px;top:596.04px;width:55.47px;height:12.42px;line-height:12.42px;text-align:right;transform-origin:100% 50%;">229</div>
<div class="t b" style="left:498.14px;top:596.04px;width:55.16px;height:12.42px;line-height:12.42px;text-align:right;transform-origin:100% 50%;">268</div>
<div class="t b" style="left:553.72px;top:596.04px;width:55.68px;height:12.42px;line-height:12.42px;text-align:right;transform-origin:100% 50%;">312</div>
<div class="t b" style="left:609.82px;top:596.04px;width:55.58px;height:12.42px;line-height:12.42px;text-align:right;transform-origin:100% 50%;">410</div>
<div class="t b" style="left:665.25px;top:596.04px;width:66.95px;height:12.42px;line-height:12.42px;text-align:right;transform-origin:100% 50%;">1.810</div>
<div class="t b" style="left:732.02px;top:596.04px;width:67.58px;height:12.42px;line-height:12.42px;text-align:right;transform-origin:100% 50%;">3.156</div>
<div class="t b" style="left:799.42px;top:596.04px;width:67.68px;height:12.42px;line-height:12.42px;text-align:right;transform-origin:100% 50%;">4.000</div>
<div class="t b" style="left:866.92px;top:596.04px;width:67.58px;height:12.42px;line-height:12.42px;text-align:right;transform-origin:100% 50%;">4.000</div>
<div class="t b" style="left:25.20px;top:608.46px;width:133.16px;height:12.42px;line-height:12.42px;text-align:left;transform-origin:0 50%;">Tännesberg</div>
<div class="t b" style="left:155.00px;top:608.46px;width:164.32px;height:12.42px;line-height:12.42px;text-align:left;transform-origin:0 50%;">Gemeindebücherei</div>
<div class="t o" style="left:314.40px;top:608.46px;width:76.11px;height:12.42px;line-height:12.42px;text-align:left;transform-origin:0 50%;">Oberpfalz</div>
<div class="t b" style="left:386.64px;top:608.46px;width:55.16px;height:12.42px;line-height:12.42px;text-align:right;transform-origin:100% 50%;">244</div>
<div class="t b" style="left:442.23px;top:608.46px;width:55.47px;height:12.42px;line-height:12.42px;text-align:right;transform-origin:100% 50%;">246</div>
<div class="t b" style="left:498.14px;top:608.46px;width:55.16px;height:12.42px;line-height:12.42px;text-align:right;transform-origin:100% 50%;">230</div>
<div class="t b" style="left:553.72px;top:608.46px;width:55.68px;height:12.42px;line-height:12.42px;text-align:right;transform-origin:100% 50%;">223</div>
<div class="t b" style="left:609.82px;top:608.46px;width:55.58px;height:12.42px;line-height:12.42px;text-align:right;transform-origin:100% 50%;">185</div>
<div class="t b" style="left:665.25px;top:608.46px;width:66.95px;height:12.42px;line-height:12.42px;text-align:right;transform-origin:100% 50%;">2.017</div>
<div class="t b" style="left:732.02px;top:608.46px;width:67.58px;height:12.42px;line-height:12.42px;text-align:right;transform-origin:100% 50%;">2.411</div>
<div class="t b" style="left:799.42px;top:608.46px;width:67.68px;height:12.42px;line-height:12.42px;text-align:right;transform-origin:100% 50%;">2.300</div>
<div class="t b" style="left:866.92px;top:608.46px;width:67.58px;height:12.42px;line-height:12.42px;text-align:right;transform-origin:100% 50%;">2.230</div>
<div class="t b" style="left:25.20px;top:620.88px;width:133.16px;height:12.42px;line-height:12.42px;text-align:left;transform-origin:0 50%;">Tegernheim</div>
<div class="t b" style="left:155.00px;top:620.88px;width:164.32px;height:12.42px;line-height:12.42px;text-align:left;transform-origin:0 50%;">Gemeindebücherei</div>
<div class="t o" style="left:314.40px;top:620.88px;width:76.11px;height:12.42px;line-height:12.42px;text-align:left;transform-origin:0 50%;">Oberpfalz</div>
<div class="t b" style="left:386.64px;top:620.88px;width:55.16px;height:12.42px;line-height:12.42px;text-align:right;transform-origin:100% 50%;">203</div>
<div class="t b" style="left:442.23px;top:620.88px;width:55.47px;height:12.42px;line-height:12.42px;text-align:right;transform-origin:100% 50%;">277</div>
<div class="t b" style="left:498.14px;top:620.88px;width:55.16px;height:12.42px;line-height:12.42px;text-align:right;transform-origin:100% 50%;">253</div>
<div class="t b" style="left:553.72px;top:620.88px;width:55.68px;height:12.42px;line-height:12.42px;text-align:right;transform-origin:100% 50%;">231</div>
<div class="t b" style="left:609.82px;top:620.88px;width:55.58px;height:12.42px;line-height:12.42px;text-align:right;transform-origin:100% 50%;">208</div>
<div class="t b" style="left:665.25px;top:620.88px;width:66.95px;height:12.42px;line-height:12.42px;text-align:right;transform-origin:100% 50%;">2.030</div>
<div class="t b" style="left:732.02px;top:620.88px;width:67.58px;height:12.42px;line-height:12.42px;text-align:right;transform-origin:100% 50%;">4.000</div>
<div class="t b" style="left:799.42px;top:620.88px;width:67.68px;height:12.42px;line-height:12.42px;text-align:right;transform-origin:100% 50%;">3.800</div>
<div class="t b" style="left:866.92px;top:620.88px;width:67.58px;height:12.42px;line-height:12.42px;text-align:right;transform-origin:100% 50%;">3.800</div>
<div class="t b" style="left:25.20px;top:633.31px;width:133.16px;height:12.42px;line-height:12.42px;text-align:left;transform-origin:0 50%;">Teublitz</div>
<div class="t b" style="left:155.00px;top:633.31px;width:164.32px;height:12.42px;line-height:12.42px;text-align:left;transform-origin:0 50%;">Stadtbücherei</div>
<div class="t o" style="left:314.40px;top:633.31px;width:76.11px;height:12.42px;line-height:12.42px;text-align:left;transform-origin:0 50%;">Oberpfalz</div>
<div class="t b" style="left:386.64px;top:633.31px;width:55.16px;height:12.42px;line-height:12.42px;text-align:right;transform-origin:100% 50%;">624</div>
<div class="t b" style="left:442.23px;top:633.31px;width:55.47px;height:12.42px;line-height:12.42px;text-align:right;transform-origin:100% 50%;">1.037</div>
<div class="t b" style="left:498.14px;top:633.31px;width:55.16px;height:12.42px;line-height:12.42px;text-align:right;transform-origin:100% 50%;">669</div>
<div class="t b" style="left:553.72px;top:633.31px;width:55.68px;height:12.42px;line-height:12.42px;text-align:right;transform-origin:100% 50%;">656</div>
<div class="t b" style="left:609.82px;top:633.31px;width:55.58px;height:12.42px;line-height:12.42px;text-align:right;transform-origin:100% 50%;">640</div>
<div class="t b" style="left:665.25px;top:633.31px;width:66.95px;height:12.42px;line-height:12.42px;text-align:right;transform-origin:100% 50%;">8.736</div>
<div class="t b" style="left:732.02px;top:633.31px;width:67.58px;height:12.42px;line-height:12.42px;text-align:right;transform-origin:100% 50%;">14.518</div>
<div class="t b" style="left:799.42px;top:633.31px;width:67.68px;height:12.42px;line-height:12.42px;text-align:right;transform-origin:100% 50%;">9.366</div>
<div class="t b" style="left:866.92px;top:633.31px;width:67.58px;height:12.42px;line-height:12.42px;text-align:right;transform-origin:100% 50%;">9.184</div>
<div class="t ti" style="left:20px;top:41.1px;width:950px;height:20px;line-height:20px;overflow:visible"><span style="left:45.50px;letter-spacing:-0.10px;">Anfrage: </span><span style="left:99.10px;letter-spacing:0.18px;">Öffentliche </span><span style="left:169.93px;">Bibliotheken </span><span style="left:247.73px;">in </span><span style="left:262.62px;">bayerischen </span><span style="left:338.12px;letter-spacing:0.26px;">Kommunen </span><span style="left:412.40px;">Anlage </span><span style="left:456.83px;">4 </span><span style="left:467.93px;">zu </span><span style="left:483.53px;letter-spacing:0.30px;">Frage </span><span style="left:523.80px;">6: </span><span style="left:537.73px;">Benutzer, </span><span style="left:597.93px;letter-spacing:0.15px;">Benutzer </span><span style="left:656.52px;">bis </span><span style="left:677.25px;">12 </span><span style="left:695.55px;">J., </span><span style="left:712.02px;letter-spacing:0.12px;">Benutzer </span><span style="left:769.50px;">ab </span><span style="left:788.20px;">60 </span><span style="left:804.95px;">J., </span><span style="left:822.43px;letter-spacing:0.05px;">Besuche </span></div>
<div class="t f" style="left:65.00px;top:654.95px;width:247.37px;height:20.00px;line-height:20.00px;text-align:left;transform-origin:0 50%;word-spacing:-0.3px">Seite 27 von 126</div>
<div class="t f" style="left:583.04px;top:655.25px;width:339.16px;height:20.00px;line-height:20.00px;text-align:right;transform-origin:100% 50%;word-spacing:-0.5px">0 bzw. N = Benutzer nicht gezählt</div>
</div></body></html>
